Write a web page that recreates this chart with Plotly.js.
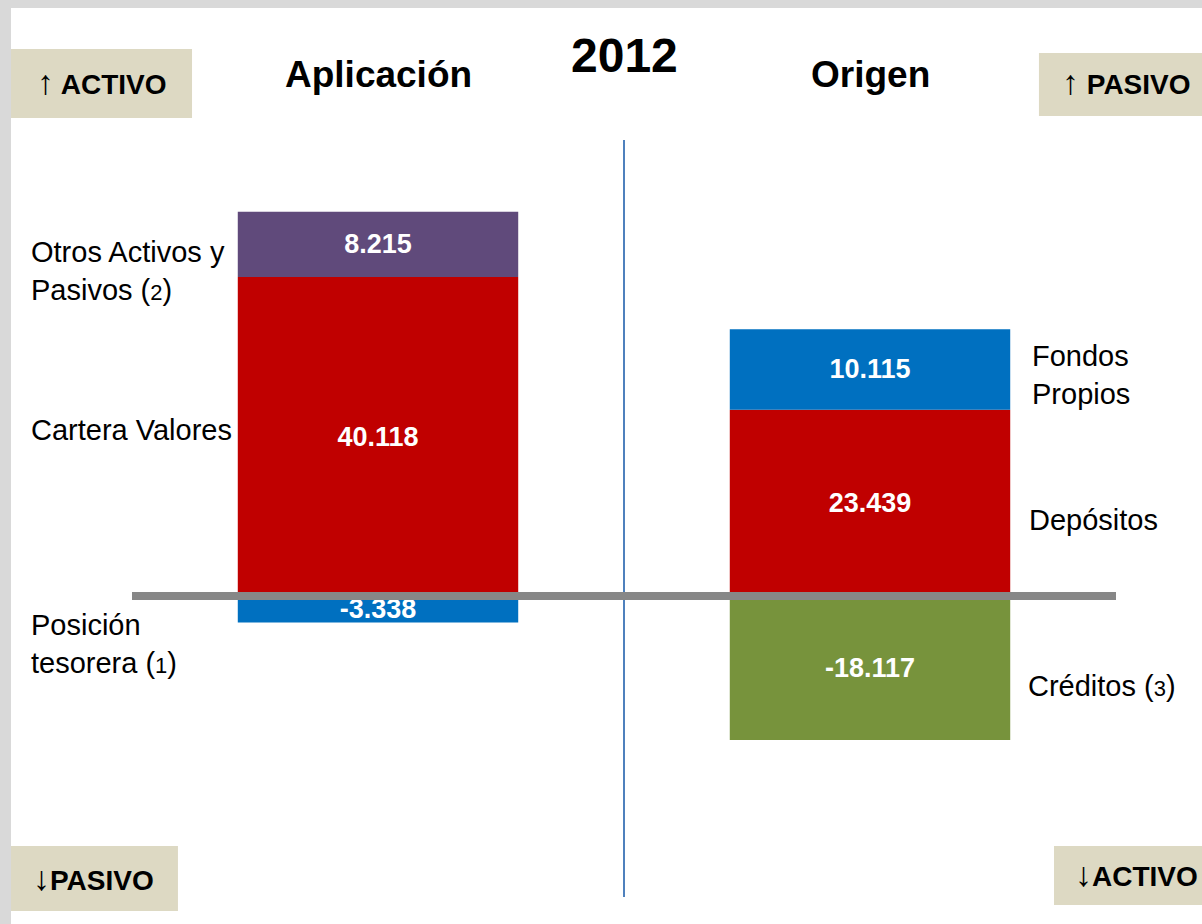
<!DOCTYPE html>
<html>
<head>
<meta charset="utf-8">
<script src="https://cdn.plot.ly/plotly-3.0.1.min.js"></script>
<style>
  body { margin: 0; background: #d9d9d9; }
  #chart { position: absolute; left: 11px; top: 8px; width: 1191px; height: 916px; background: #fff; }
</style>
</head>
<body>
<div id="chart"></div>
<script>
const year = '2012'
const sides = ['Aplicación', 'Origen']
const sideX = [0, 1]

// millones de euros: tramo principal, tramo superior y tramo negativo de cada columna
const mainValues = [40118, 23439]
const topValues = [8215, 10115]
const negValues = [-3338, -18117]

const mainNames = ['Cartera Valores', 'Depósitos']
const topNames = ['Otros Activos y<br>Pasivos (<span style="font-size:22px">2</span>)', 'Fondos<br>Propios']
const negNames = ['Posición<br>tesorera (<span style="font-size:22px">1</span>)', 'Créditos (<span style="font-size:22px">3</span>)']

const mainColors = ['#c00000', '#c00000']
const topColors = ['#604a7b', '#0070c0']
const negColors = ['#0070c0', '#77933c']

const UP = '<span style="font-size:34px">↑</span>'
const DOWN = '<span style="font-size:34px">↓</span>'
const corners = [UP + '<b> ACTIVO</b>', UP + '<b> PASIVO</b>', DOWN + '<b>PASIVO</b>', DOWN + '<b>ACTIVO</b>']

const FONT = 'Liberation Sans, Arial, sans-serif'
const BEIGE = '#ddd9c3'

function fmt(v){
    const s = Math.abs(v).toString().replace(/\B(?=(\d{3})+(?!\d))/g, '.')
    return (v < 0 ? '-' : '') + s
}

function makeBar(values, colors){
    return {
        type: 'bar',
        x: sideX,
        y: values,
        width: 0.57,
        marker: {color: colors, line: {width: 0}},
        text: values.map(fmt),
        textposition: 'inside',
        insidetextanchor: 'middle',
        textangle: 0,
        constraintext: 'none',
        textfont: {family: FONT, size: 27, color: '#ffffff', weight: 'bold'},
        hoverinfo: 'none'
    }
}

const data = [
    makeBar(mainValues, mainColors),
    makeBar(topValues, topColors),
    makeBar(negValues, negColors)
]

function label(text, xref, x, yref, y, size, bold, xanchor){
    return {
        text: bold ? '<b>' + text + '</b>' : text,
        xref: xref, x: x, yref: yref, y: y,
        xanchor: xanchor || 'center', yanchor: 'middle',
        align: 'left', showarrow: false,
        font: {family: FONT, size: size, color: '#000'}
    }
}

const annotations = [
    label(year, 'x', 0.5, 'paper', 1.112, 48, true),
    label(sides[0], 'x', sideX[0], 'paper', 1.087, 37, true),
    label(sides[1], 'x', sideX[1], 'paper', 1.087, 37, true),

    label(topNames[0], 'paper', -0.1047, 'y', 40900, 29, false, 'left'),
    label(mainNames[0], 'paper', -0.1047, 'y', 20900, 29, false, 'left'),
    label(negNames[0], 'paper', -0.1047, 'y', -6100, 29, false, 'left'),
    label(topNames[1], 'paper', 0.9127, 'y', 27800, 29, false, 'left'),
    label(mainNames[1], 'paper', 0.9096, 'y', 9560, 29, false, 'left'),
    label(negNames[1], 'paper', 0.9086, 'y', -11300, 29, false, 'left'),

    label(corners[0], 'paper', -0.0985, 'paper', 1.076, 28, false, 'left'),
    label(corners[1], 'paper', 0.9431, 'paper', 1.076, 28, false, 'left'),
    label(corners[2], 'paper', -0.1026, 'paper', 0.0245, 28, false, 'left'),
    label(corners[3], 'paper', 0.9563, 'paper', 0.031, 28, false, 'left')
]

const shapes = [
    {type: 'rect', xref: 'paper', yref: 'paper', x0: -0.123, x1: 0.061, y0: 1.0291, y1: 1.1202, fillcolor: BEIGE, line: {width: 0}, layer: 'below'},
    {type: 'rect', xref: 'paper', yref: 'paper', x0: 0.9217, x1: 1.1, y0: 1.0317, y1: 1.1149, fillcolor: BEIGE, line: {width: 0}, layer: 'below'},
    {type: 'rect', xref: 'paper', yref: 'paper', x0: -0.123, x1: 0.0467, y0: -0.0185, y1: 0.0674, fillcolor: BEIGE, line: {width: 0}, layer: 'below'},
    {type: 'rect', xref: 'paper', yref: 'paper', x0: 0.937, x1: 1.1, y0: -0.0106, y1: 0.0674, fillcolor: BEIGE, line: {width: 0}, layer: 'below'},
    // separador vertical y linea de cero
    {type: 'line', xref: 'x', yref: 'paper', x0: 0.5, x1: 0.5, y0: 0, y1: 1, line: {color: '#4f81bd', width: 2}, layer: 'above'},
    {type: 'line', xref: 'paper', yref: 'y', x0: 0, x1: 1, y0: 0, y1: 0, line: {color: '#878787', width: 8}, layer: 'above'}
]

const layout = {
    width: 1191,
    height: 916,
    margin: {l: 121, r: 86, t: 132, b: 27},
    paper_bgcolor: '#ffffff',
    plot_bgcolor: '#ffffff',
    barmode: 'relative',
    showlegend: false,
    font: {family: FONT},
    xaxis: {range: [-0.5, 1.5], visible: false, fixedrange: true},
    yaxis: {range: [-37862, 57358], visible: false, fixedrange: true},
    annotations: annotations,
    shapes: shapes
}

Plotly.newPlot('chart', data, layout, {displayModeBar: false, staticPlot: true})
</script>
</body>
</html>
